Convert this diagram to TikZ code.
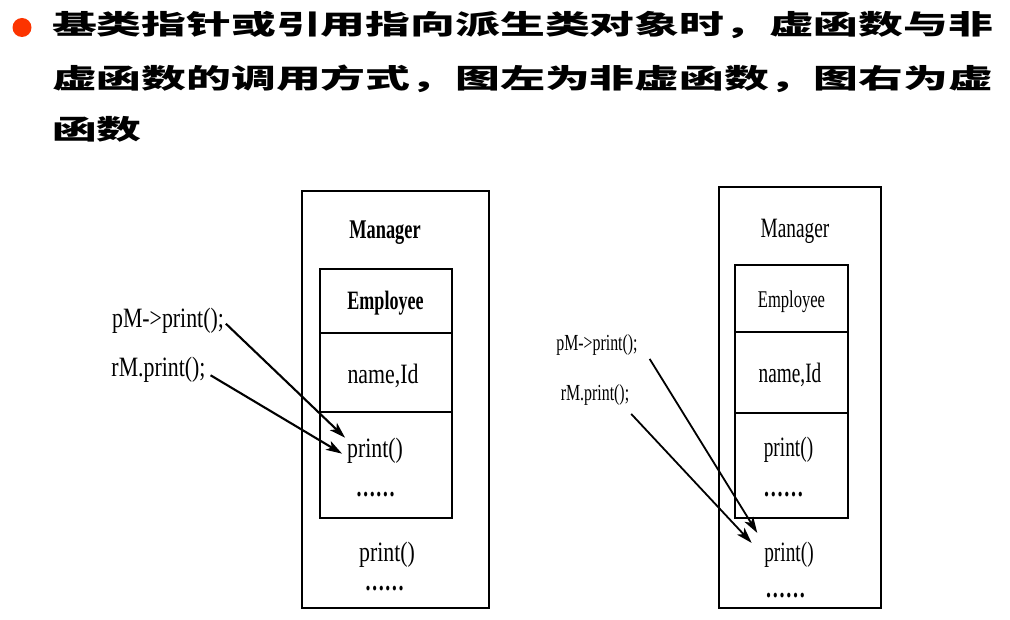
\documentclass[tikz,border=0pt]{standalone}
\usepackage{fontspec}
\setmainfont{Liberation Serif}
\newfontfamily\titlefont{Noto Sans CJK SC}[FakeStretch=1.66]
\newfontfamily\lfont{Liberation Serif}[FakeStretch=0.78]
\newfontfamily\lbold{Liberation Serif}[FakeStretch=0.68]
\newfontfamily\rfont{Liberation Serif}[FakeStretch=0.69]
\usepackage{tikz}
\usetikzlibrary{arrows.meta,positioning}
\definecolor{bulletred}{RGB}{252,52,0}

\begin{document}
\begin{tikzpicture}[->,>={Stealth[length=16pt,width=10pt,inset=4pt]},x=1pt,y=-1pt,
  line width=2.1pt,
  frame/.style={draw,line width=2.4pt,outer sep=0pt,inner sep=0pt},
  cell/.style={draw,line width=2.6pt,outer sep=0pt,inner sep=0pt},
  txt/.style={anchor=base,inner sep=1pt},
  dots/.style={txt,font=\lbold\bfseries\fontsize{29}{30}\selectfont},
  headline/.style={anchor=base west,inner sep=0pt,
    font=\titlefont\bfseries\fontsize{27}{30}\selectfont}]

  \useasboundingbox (0,0) rectangle (1010,620);

  % bullet and title
  \node[circle,fill=bulletred,minimum size=19pt,inner sep=0pt] (bullet) at (22,27.5) {};
  \node[headline] (line1) at (51,35) {基类指针或引用指向派生类对象时，虚函数与非};
  \node[headline] (line2) at (51,88.5) {虚函数的调用方式，图左为非虚函数，图右为虚};
  \node[headline] (line3) at (51,140) {函数};

  % left: non-virtual call
  \node[frame,minimum width=187pt,minimum height=417pt] (lmgr) at (395.5,399.5) {};
  \node[cell,minimum width=132pt,minimum height=64pt] (lhead) at (386,301) {};
  \node[cell,minimum width=132pt,minimum height=79pt,below=0pt of lhead] (ldata) {};
  \node[cell,minimum width=132pt,minimum height=106pt,below=0pt of ldata] (lfunc) {};

  \begin{scope}[every node/.style={txt,font=\lfont\fontsize{28}{30}\selectfont}]
    \node[font=\lbold\bfseries\fontsize{27}{28}\selectfont] (lmgrname) at (385,238.5) {Manager};
    \node[font=\lbold\bfseries\fontsize{26.5}{28}\selectfont] (lempname) at (385.5,310) {Employee};
    \node (lfields) at (383,384) {name,Id};
    \node (lprint) at (375,457.4) {print()};
    \node[dots] (ldots) at (375.5,496) {……};
    \node (lprintm) at (387,561) {print()};
    \node[dots] (ldotsm) at (384.5,590) {……};
    \node (lpm) at (168,327.5) {pM->print();};
    \node (lrm) at (158.5,377) {rM.print();};
  \end{scope}

  \draw ([yshift=-3pt]lpm.east) -- ([yshift=13pt]lprint.west);
  \draw ([xshift=3pt,yshift=-5pt]lrm.east) -- ([xshift=-3pt,yshift=-3pt]lprint.west);

  % right: virtual call
  \node[frame,minimum width=162pt,minimum height=421pt] (rmgr) at (800,397.5) {};
  \node[cell,minimum width=113pt,minimum height=67pt] (rhead) at (791.5,298.5) {};
  \node[cell,minimum width=113pt,minimum height=81pt,below=0pt of rhead] (rdata) {};
  \node[cell,minimum width=113pt,minimum height=105pt,below=0pt of rdata] (rfunc) {};

  \begin{scope}[every node/.style={txt,font=\rfont\fontsize{28}{30}\selectfont}]
    \node (rmgrname) at (795,238) {Manager};
    \node[font=\rfont\fontsize{24}{26}\selectfont] (rempname) at (791.5,307.5) {Employee};
    \node (rfields) at (790,383) {name,Id};
    \node (rprint) at (788.5,456) {print()};
    \node[dots,font=\rfont\bfseries\fontsize{29}{30}\selectfont] (rdots) at (783.5,496) {……};
    \node (rprintm) at (789,561) {print()};
    \node[dots,font=\rfont\bfseries\fontsize{29}{30}\selectfont] (rdotsm) at (785.5,597) {……};
    \node[font=\rfont\fontsize{23}{25}\selectfont] (rpm) at (597,351) {pM->print();};
    \node[font=\rfont\fontsize{23}{25}\selectfont] (rrm) at (595,401) {rM.print();};
  \end{scope}

  \draw[line width=1.8pt] ([xshift=10pt,yshift=-1pt]rpm.south east) -- ([xshift=-5pt,yshift=6.6pt]rprintm.north west);
  \draw[line width=1.8pt] ([yshift=-6pt]rrm.south east) -- ([xshift=-10.6pt,yshift=-3.4pt]rprintm.north west);
\end{tikzpicture}
\end{document}
